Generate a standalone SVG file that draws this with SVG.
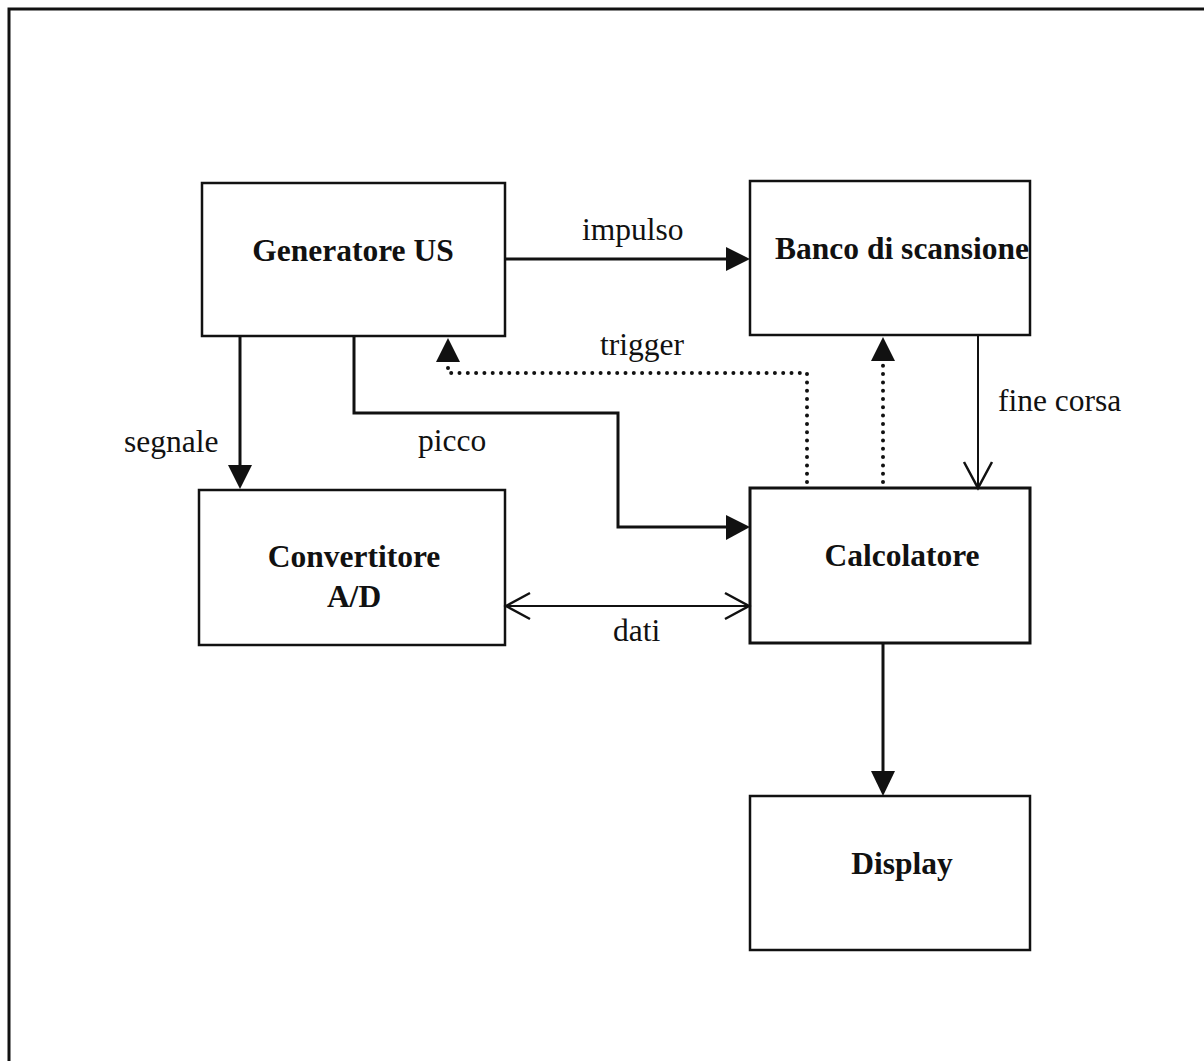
<svg xmlns="http://www.w3.org/2000/svg" width="1204" height="1061" viewBox="0 0 1204 1061">
<style>
.box{fill:#fff;stroke:#111;stroke-width:2.5}
.lbl{font-family:"Liberation Serif","Times New Roman",serif;font-size:31.5px;font-weight:bold;fill:#111;text-anchor:middle}
.t{font-family:"Liberation Serif","Times New Roman",serif;font-size:31.5px;fill:#111}
.c{fill:none;stroke:#111;stroke-width:3}
.thin{fill:none;stroke:#111;stroke-width:2}
.dot{fill:none;stroke:#111;stroke-width:4;stroke-linecap:round;stroke-dasharray:0 8.3}
.head{fill:#111}
</style>
<rect width="1204" height="1061" fill="#fff"/>
<path d="M9,1061 V9 H1204" fill="none" stroke="#111" stroke-width="3"/>
<g id="generatore"><rect class="box" x="202" y="183" width="303" height="153"/><text class="lbl" x="353" y="261">Generatore US</text></g>
<g id="banco"><rect class="box" x="750" y="181" width="280" height="154"/><text class="lbl" x="902" y="259">Banco di scansione</text></g>
<g id="convertitore"><rect class="box" x="199" y="490" width="306" height="155"/><text class="lbl" x="354" y="567">Convertitore</text><text class="lbl" x="354" y="607">A/D</text></g>
<g id="calcolatore"><rect class="box" x="750" y="488" width="280" height="155" style="stroke-width:3"/><text class="lbl" x="902" y="566">Calcolatore</text></g>
<g id="display"><rect class="box" x="750" y="796" width="280" height="154"/><text class="lbl" x="902" y="874">Display</text></g>
<g id="connectors">
<line class="c" x1="505" y1="259" x2="728" y2="259"/><polygon class="head" points="750,259 726,247 726,271"/>
<line class="c" x1="240" y1="336" x2="240" y2="466"/><polygon class="head" points="240,489 228,465 252,465"/>
<polyline class="c" points="354,336 354,413 618,413 618,527 728,527"/><polygon class="head" points="750,527 726,515 726,540"/>
<polyline class="dot" points="807,482 807,373 448,373 448,365"/><polygon class="head" points="448,338 436,362 460,362"/>
<line class="dot" x1="883" y1="482" x2="883" y2="365"/><polygon class="head" points="883,337 871,361 895,361"/>
<line class="thin" x1="978" y1="335" x2="978" y2="487"/><polyline class="thin" points="964,462 978,488 992,462" style="stroke-width:2.5"/>
<line class="thin" x1="506" y1="606" x2="749" y2="606"/><polyline class="thin" points="530,593 506,606 530,619" style="stroke-width:2.5"/><polyline class="thin" points="725,593 749,606 725,619" style="stroke-width:2.5"/>
<line class="c" x1="883" y1="643" x2="883" y2="774"/><polygon class="head" points="883,796 871,771 895,771"/>
</g>
<text class="t" x="582" y="240">impulso</text>
<text class="t" x="600" y="355">trigger</text>
<text class="t" x="998" y="411">fine corsa</text>
<text class="t" x="124" y="452">segnale</text>
<text class="t" x="418" y="451">picco</text>
<text class="t" x="613" y="641">dati</text>
</svg>
